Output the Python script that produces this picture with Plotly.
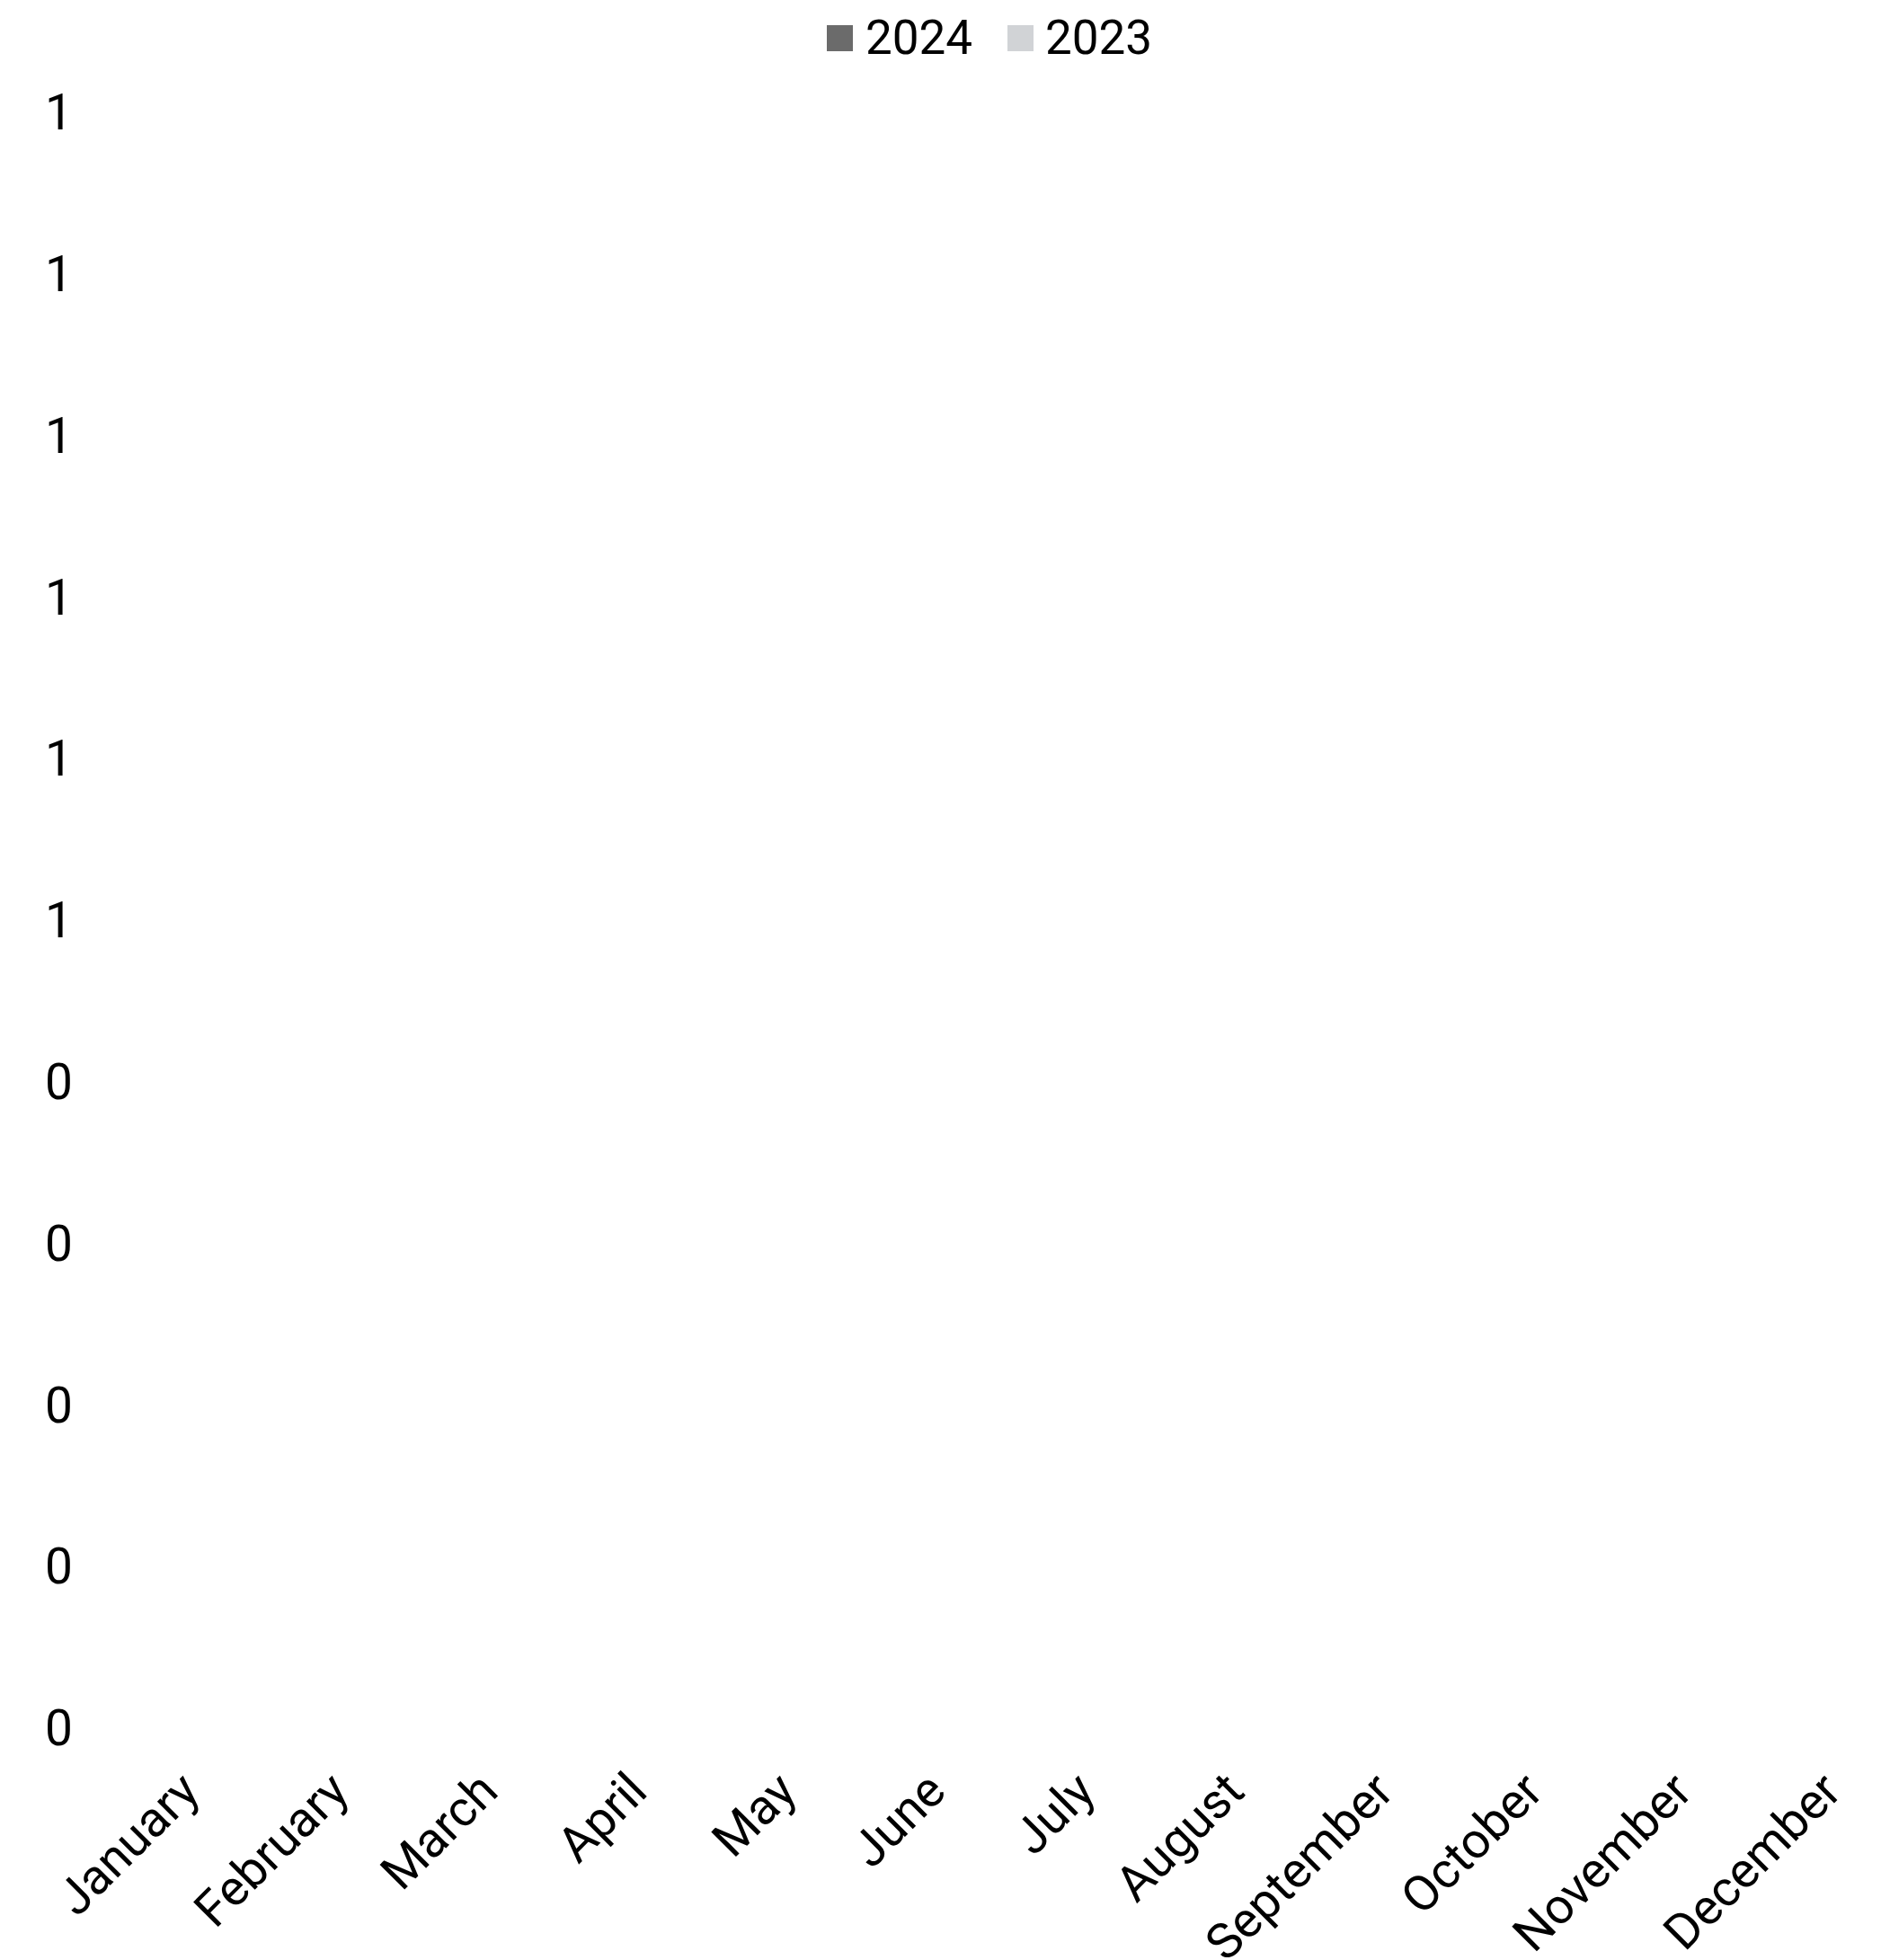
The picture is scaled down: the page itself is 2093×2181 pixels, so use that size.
import plotly.graph_objects as go

months = ["January", "February", "March", "April", "May", "June", "July",
          "August", "September", "October", "November", "December"]
series_names = ["2024", "2023"]
values_2024 = [0, 0, 0, 0, 0, 0, 0, 0, 0, 0, 0, 0]
values_2023 = [0, 0, 0, 0, 0, 0, 0, 0, 0, 0, 0, 0]
y_tickvals = [0, 0.1, 0.2, 0.3, 0.4, 0.5, 0.6, 0.7, 0.8, 0.9, 1.0]
y_ticktext = ["0", "0", "0", "0", "0", "1", "1", "1", "1", "1", "1"]

COLOR_2024 = "#6b6b6b"
COLOR_2023 = "#d1d3d6"
FONT = "Roboto"

W, H = 2093, 2181
ML, MR, MT, MB = 100, 0, 125, 258
PW, PH = W - ML - MR, H - MT - MB


def px_x(px):
    return (px - ML) / PW


def px_y(py):
    return (H - MB - py) / PH


fig = go.Figure()
fig.add_trace(go.Bar(name=series_names[0], x=months, y=values_2024,
                     marker=dict(color=COLOR_2024, line=dict(width=0))))
fig.add_trace(go.Bar(name=series_names[1], x=months, y=values_2023,
                     marker=dict(color=COLOR_2023, line=dict(width=0))))

# legend drawn as swatch + label (large square swatches as in the reference)
legend_items = [
    (series_names[0], COLOR_2024, 920, 961),
    (series_names[1], COLOR_2023, 1121, 1161),
]
shapes = []
annotations = []
for name, color, sq_left, txt_left in legend_items:
    shapes.append(dict(
        type="rect", xref="paper", yref="paper",
        x0=px_x(sq_left), x1=px_x(sq_left + 29),
        y0=px_y(57), y1=px_y(28),
        fillcolor=color, line=dict(width=0), layer="above",
    ))
    annotations.append(dict(
        text=name, xref="paper", yref="paper",
        x=px_x(txt_left), y=px_y(42), xanchor="left", yanchor="middle",
        showarrow=False, font=dict(family=FONT, size=53, color="#000000"),
    ))

fig.update_layout(
    width=W,
    height=H,
    autosize=False,
    barmode="group",
    showlegend=False,
    paper_bgcolor="white",
    plot_bgcolor="white",
    font=dict(family=FONT, size=55, color="#000000"),
    margin=dict(l=ML, r=MR, t=MT, b=MB, pad=0),
    shapes=shapes,
    annotations=annotations,
    xaxis=dict(
        type="category",
        range=[-0.633, 11.367],
        tickangle=-45,
        showgrid=False,
        showline=False,
        zeroline=False,
        ticks="",
        automargin=False,
        ticklabelstandoff=25,
        tickfont=dict(family=FONT, size=55, color="#000000"),
    ),
    yaxis=dict(
        range=[0, 1],
        tickmode="array",
        tickvals=y_tickvals,
        ticktext=y_ticktext,
        showgrid=False,
        showline=False,
        zeroline=False,
        ticks="",
        automargin=False,
        ticklabelstandoff=18,
        tickfont=dict(family=FONT, size=55, color="#000000"),
    ),
)

fig.write_html(
    "out.html",
    config={"displayModeBar": False},
    post_script="document.body.style.margin='0';document.body.style.overflow='hidden';",
)
